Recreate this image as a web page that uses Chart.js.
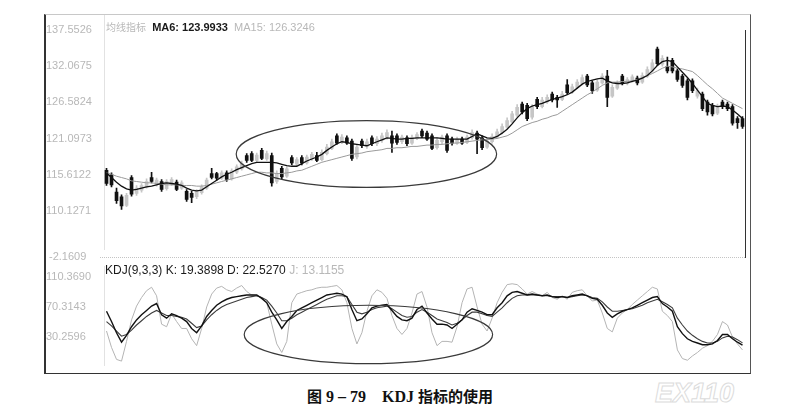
<!DOCTYPE html>
<html>
<head>
<meta charset="utf-8">
<script src="https://cdn.jsdelivr.net/npm/chart.js@4.4.1/dist/chart.umd.min.js"></script>
<style>
  body { margin: 0; background: #fff; width: 802px; height: 416px; position: relative; overflow: hidden;
         font-family: "Liberation Sans", Arial, sans-serif; }
  canvas { position: absolute; left: 0; }
  #priceCanvas { top: 0; }
  #kdjCanvas { top: 258px; }
  #frame { position: absolute; left: 44px; top: 14px; width: 707px; height: 360px; box-sizing: border-box;
           border-top: 1px solid #c8c8c8; border-right: 1px solid #555; border-bottom: 1px solid #333;
           border-left: 2px solid #333; pointer-events: none; }
  #cursor { position: absolute; left: 745px; top: 30px; width: 1px; height: 228px; background: #333; }
  #sep { position: absolute; left: 100px; top: 257px; width: 645px; border-top: 1px dotted #c4c4c4; }
  .txt { position: absolute; white-space: nowrap; font-size: 11px; }
  .g { color: #b8b8b8; }
  .k { color: #1a1a1a; }
  #caption { position: absolute; left: 0; top: 385px; width: 800px; text-align: center; font-size: 16px;
             font-weight: bold; color: #111; font-family: "Liberation Serif", "Noto Sans CJK SC", serif; }
  #caption .cjk { font-family: "Noto Sans CJK SC", sans-serif; font-size: 15px; }
  #mark { position: absolute; left: 655px; top: 378px; font: italic bold 27px "Liberation Sans", Arial, sans-serif;
          color: #fff; -webkit-text-stroke: 1px #dcdcdc; }
</style>
</head>
<body>
<canvas id="priceCanvas" width="802" height="258"></canvas>
<canvas id="kdjCanvas" width="802" height="116"></canvas>
<div id="frame"></div>
<div id="cursor"></div>
<div id="sep"></div>
<div class="txt" style="left:106px;top:19px"><span class="g" style="font-family:'Noto Sans CJK SC';font-size:10px">均线指标</span>&nbsp;&nbsp;<span class="k" style="font-weight:bold">MA6: 123.9933</span>&nbsp;&nbsp;<span class="g">MA15: 126.3246</span></div>
<div class="txt g" style="left:49px;top:250px">-2.1609</div>
<div class="txt" style="left:105px;top:263px;font-size:12px"><span class="k">KDJ(9,3,3) K: 19.3898 D: 22.5270</span> <span class="g">J: 13.1155</span></div>
<div id="caption"><span class="cjk">图</span> 9 – 79&nbsp;&nbsp;&nbsp;&nbsp;KDJ <span class="cjk">指标的使用</span></div>
<div id="mark">EX110</div>
<script>
// price axis labels (upper panel) and KDJ axis labels (lower panel)
const priceTicks = [137.5526, 132.0675, 126.5824, 121.0973, 115.6122, 110.1271];
const kdjTicks = [110.3690, 70.3143, 30.2596];

// daily candles
const opens = [116.3,115.6,113.0,112.3,111.0,115.2,112.8,113.3,113.8,115.2,114.2,114.6,113.5,114.3,114.5,113.6,113.1,112.8,112.3,112.9,
  113.6,115.8,115.8,115.1,115.9,115.0,116.0,116.5,118.5,118.8,117.8,119.3,118.0,118.5,114.6,116.6,115.4,118.2,117.2,118.2,
  117.4,118.0,118.5,117.9,118.8,119.6,121.5,120.5,121.2,120.7,118.3,120.7,119.9,121.2,120.3,120.8,121.3,121.5,121.5,120.6,
  121.2,120.4,121.1,122.2,121.9,121.5,119.7,120.6,121.5,121.0,120.4,121.0,120.5,121.2,121.9,121.2,119.8,120.6,121.3,122.0,
  122.8,123.6,124.6,126.3,126.1,124.3,127.0,125.9,126.6,127.8,127.3,127.0,129.2,128.1,128.8,129.4,130.5,129.5,128.4,129.5,
  130.5,127.5,128.7,130.5,129.4,129.8,130.2,129.6,130.5,131.3,134.6,132.3,132.0,132.9,131.3,130.5,129.8,129.8,127.5,127.8,
  126.6,126.1,124.9,126.6,126.3,125.9,124.1,124.1];
const highs = [116.6,115.9,113.6,112.6,112.8,115.5,114.0,114.3,115.0,116.0,115.1,114.9,114.9,115.2,114.8,114.7,113.4,113.1,113.4,114.1,
  115.1,116.6,116.0,116.2,116.2,116.5,117.1,117.7,118.8,119.1,118.9,119.6,119.2,118.9,116.2,116.9,116.8,118.5,118.2,118.5,
  118.6,119.0,119.0,119.4,120.2,121.0,121.8,121.7,121.5,121.0,120.2,121.0,121.0,121.5,121.4,121.9,122.4,122.2,121.8,121.6,
  121.5,121.6,122.0,122.5,122.2,121.8,121.2,121.6,121.8,121.3,121.3,121.3,121.6,122.4,122.2,121.5,121.1,121.8,122.5,123.3,
  124.2,125.2,126.2,126.6,126.4,126.2,127.3,127.3,127.7,128.1,127.6,128.2,130.0,129.3,130.0,130.7,130.8,129.8,130.0,130.9,
  131.4,129.2,129.8,130.8,130.3,130.7,130.5,131.0,131.9,133.0,134.9,133.6,133.4,133.2,131.6,130.8,130.1,130.1,128.7,128.1,
  126.9,126.4,126.3,126.9,126.6,126.2,124.4,124.4];
const lows = [114.0,113.8,111.3,110.4,110.8,112.4,112.5,113.0,113.6,114.4,113.9,113.1,113.3,114.0,113.2,113.4,111.6,111.4,112.0,112.7,
  113.4,115.0,114.8,114.9,114.6,114.8,115.8,116.3,117.5,117.6,117.6,117.9,117.8,113.9,114.3,115.0,115.2,117.1,117.0,117.1,
  117.2,117.8,117.6,117.7,118.6,119.4,120.2,120.3,120.2,117.8,118.0,119.7,119.6,120.0,120.0,120.5,121.0,119.0,120.2,120.3,
  120.0,120.2,120.9,121.2,120.8,119.4,119.5,120.3,119.0,120.1,120.2,120.2,120.3,121.0,118.8,119.4,119.6,120.4,121.1,121.8,
  122.6,123.4,124.4,124.8,123.8,124.0,125.6,125.7,126.4,126.6,125.8,126.8,127.7,127.9,128.6,129.2,128.9,127.9,128.2,129.3,
  125.9,127.3,128.5,129.2,129.2,129.6,129.2,129.4,130.3,131.1,132.1,132.0,131.0,131.0,129.7,128.8,126.9,128.0,127.2,125.3,
  124.6,124.5,124.7,125.6,125.3,123.1,122.6,122.6];
const closes = [114.3,114.1,111.7,110.9,112.5,112.7,113.6,114.0,114.6,114.6,114.8,113.4,114.6,114.9,113.4,114.4,111.9,112.2,113.1,113.8,
  114.8,115.2,115.1,115.9,114.9,116.2,116.8,117.3,117.8,117.8,118.6,118.1,118.8,114.4,115.8,115.3,116.5,117.4,117.9,117.4,
  118.3,118.7,117.8,119.0,119.8,120.6,120.4,121.3,120.4,118.1,119.8,120.0,120.6,120.3,121.0,121.5,122.0,120.4,120.5,121.3,
  120.3,121.2,121.7,121.5,121.0,119.6,120.8,121.3,119.3,120.4,121.0,120.4,121.3,122.0,121.0,119.7,120.7,121.4,122.1,122.9,
  123.8,124.8,125.8,125.1,124.1,125.8,125.9,126.9,127.3,126.9,126.9,127.8,128.0,128.9,129.6,130.3,129.2,128.3,129.6,130.5,
  127.3,128.8,129.4,129.5,130.0,130.4,129.5,130.6,131.5,132.5,132.4,133.2,131.3,131.3,130.0,129.1,127.3,128.3,128.3,125.6,
  125.1,124.8,125.9,125.9,125.6,123.4,123.5,122.9];

// moving averages as drawn
const ma6 = [115.9,115.2,114.5,113.9,113.5,113.3,113.4,113.6,113.8,113.9,114.1,114.3,114.4,114.3,114.2,114.0,113.6,113.3,113.2,113.3,
  113.8,114.3,114.8,115.3,115.7,116.0,116.4,116.7,117.0,117.3,117.5,117.5,117.5,117.5,117.4,117.2,117.0,116.9,116.9,117.3,
  117.7,118.0,118.3,118.7,119.3,119.8,120.3,120.6,120.5,120.3,120.2,120.1,120.0,120.3,120.6,120.9,121.2,121.1,121.0,121.0,
  121.1,121.1,121.2,121.2,121.2,121.2,121.2,121.1,121.0,121.0,121.0,121.0,121.0,121.4,121.8,121.5,121.2,121.1,121.4,121.9,
  122.5,123.3,124.2,125.0,125.6,126.0,126.2,126.4,126.7,127.0,127.2,127.4,127.7,128.1,128.7,129.3,129.7,129.9,130.1,130.2,
  129.8,129.5,129.4,129.4,129.5,129.7,129.9,130.2,130.6,131.3,132.1,132.7,132.9,132.7,131.9,131.1,130.3,129.4,128.4,127.4,
  126.4,126.1,125.9,126.0,125.9,125.4,124.8,124.1];
const ma15 = [115.9,115.7,115.4,115.2,115.0,114.7,114.6,114.5,114.4,114.4,114.3,114.2,114.1,114.1,114.1,114.0,114.0,114.0,113.9,113.9,
  114.0,114.2,114.4,114.6,114.8,115.0,115.2,115.4,115.6,115.8,116.0,116.0,115.9,115.9,115.8,115.8,115.9,116.0,116.2,116.3,
  116.6,116.9,117.2,117.5,117.7,117.9,118.1,118.3,118.5,118.7,118.8,118.9,119.1,119.2,119.3,119.4,119.6,119.6,119.7,119.7,
  119.8,119.9,119.9,120.0,120.1,120.1,120.2,120.2,120.3,120.4,120.4,120.5,120.6,120.7,120.8,120.9,120.9,121.0,121.1,121.3,
  121.5,121.9,122.4,122.9,123.2,123.5,123.7,124.0,124.2,124.5,124.7,125.2,125.7,126.2,126.7,127.2,127.7,128.1,128.6,129.1,
  129.5,129.6,129.6,129.7,129.7,129.8,130.0,130.3,130.6,130.9,131.3,131.7,132.0,131.9,131.7,131.6,131.4,131.2,130.6,129.9,
  129.2,128.6,127.9,127.2,126.8,126.4,126.0,125.6];

// KDJ(9,3,3)
const kLine = [64.6,50.9,36.0,23.4,32.6,44.0,53.1,60.0,65.7,71.5,74.9,60.0,55.4,61.2,58.9,55.4,50.9,41.7,36.0,45.1,
  57.7,65.7,72.6,77.2,80.6,82.9,84.1,85.2,86.3,86.3,86.3,81.8,76.0,63.4,53.1,41.7,50.9,57.7,65.7,69.2,
  72.6,76.0,79.5,82.9,86.3,87.5,88.6,87.5,84.1,66.9,52.0,54.3,61.2,69.2,71.5,72.6,73.7,65.7,57.7,53.1,
  52.0,55.4,66.9,71.5,62.3,54.3,47.4,47.4,46.3,41.7,47.4,53.1,63.4,68.0,65.7,63.4,60.0,60.0,69.2,76.0,
  85.2,89.8,90.9,88.6,86.3,87.5,86.3,85.2,86.3,84.1,82.9,84.1,82.9,85.2,86.3,87.5,85.2,81.8,80.6,72.6,
  62.3,56.6,61.2,64.6,66.9,69.2,72.6,76.0,79.5,82.9,84.1,74.9,70.3,64.6,44.0,34.8,28.0,24.5,22.3,20.0,
  20.0,21.1,25.7,33.7,33.7,28.0,23.4,19.4];
const dLine = [50.9,45.1,38.3,31.4,33.7,39.4,46.3,52.0,57.7,62.3,65.7,62.3,58.9,58.9,57.7,56.6,54.3,48.6,42.9,45.1,
  53.1,60.0,65.7,70.3,73.7,76.0,78.3,80.6,82.9,84.1,85.2,82.9,79.5,71.5,62.3,52.0,52.0,55.4,60.0,63.4,
  66.9,70.3,73.7,77.2,80.6,82.9,85.2,85.2,84.1,73.7,63.4,61.2,63.4,66.9,69.2,70.3,71.5,68.0,63.4,58.9,
  56.6,57.7,63.4,66.9,63.4,58.9,54.3,52.0,49.7,46.3,48.6,53.1,58.9,63.4,63.4,61.2,58.9,57.7,63.4,69.2,
  76.0,81.8,85.2,86.3,86.3,86.3,86.3,85.2,85.2,84.1,84.1,84.1,82.9,84.1,85.2,86.3,85.2,82.9,81.8,77.2,
  70.3,64.6,64.6,65.7,66.9,68.0,70.3,72.6,76.0,78.3,80.6,77.2,73.7,69.2,55.4,46.3,38.3,32.6,28.0,24.5,
  22.3,22.3,24.5,29.1,31.4,30.3,26.8,22.5];
const jLine = [38.3,16.5,0.5,-1.8,24.5,53.1,71.5,82.9,92.0,96.6,85.2,47.4,44.0,61.2,50.9,41.7,41.7,28.0,18.8,41.7,
  70.3,87.5,95.5,97.8,93.2,90.9,95.5,98.9,90.9,86.3,85.2,82.9,76.0,47.4,21.1,9.7,24.5,76.0,87.5,89.8,
  92.0,93.2,95.5,96.6,96.6,97.8,98.9,93.2,76.0,41.7,21.1,36.0,64.6,85.2,93.2,89.8,81.8,58.9,41.7,33.7,
  41.7,62.3,87.5,90.9,70.3,36.0,18.8,24.5,24.5,23.4,44.0,76.0,94.3,96.6,70.3,47.4,38.3,55.4,76.0,89.8,
  100.1,101.2,100.1,94.3,87.5,90.9,87.5,85.2,89.8,82.9,80.6,85.2,80.6,89.8,92.0,93.2,85.2,78.3,79.5,62.3,
  41.7,37.1,55.4,62.3,66.9,73.7,79.5,85.2,90.9,96.6,94.3,64.6,58.9,50.9,13.1,1.6,-0.6,5.1,9.7,15.4,
  18.8,24.5,33.7,50.9,46.3,30.3,21.1,13.1];

const days = closes.map((c, i) => i + 1);

// ellipses marking the sideways range, in data units
const priceEllipse = { from: 25.9, to: 77.9, top: 123.8, bottom: 113.7 };
const kdjEllipse = { from: 27.5, to: 77.1, top: 72.6, bottom: -5.2 };

const UP = "#c6c6c6";
const DOWN = "#111111";

const ellipsePlugin = {
  id: "ellipse",
  afterDatasetsDraw(chart, args, opts) {
    const { ctx, scales } = chart;
    const x0 = scales.x.getPixelForValue(opts.from);
    const x1 = scales.x.getPixelForValue(opts.to);
    const y0 = scales.y.getPixelForValue(opts.top);
    const y1 = scales.y.getPixelForValue(opts.bottom);
    ctx.save();
    ctx.beginPath();
    ctx.ellipse((x0 + x1) / 2, (y0 + y1) / 2, (x1 - x0) / 2, (y1 - y0) / 2, 0, 0, Math.PI * 2);
    ctx.strokeStyle = "#3a3a3a";
    ctx.lineWidth = 1.2;
    ctx.stroke();
    ctx.restore();
  }
};

function yAxis(min, max, tickValues) {
  return {
    min: min,
    max: max,
    afterFit(scale) { scale.width = 58; },
    afterBuildTicks(scale) { scale.ticks = tickValues.map(v => ({ value: v })); },
    ticks: {
      color: "#b8b8b8",
      font: { family: "Liberation Sans", size: 11 },
      crossAlign: "far",
      padding: 2,
      callback: v => v.toFixed(4)
    },
    grid: { display: false },
    border: { display: true, color: "#e2e2e2", dash: [1, 2] }
  };
}

const isUp = closes.map((c, i) => c >= opens[i]);

//PRICE PANEL
new Chart(document.getElementById("priceCanvas").getContext("2d"), {
  type: "bar",
  data: {
    labels: days,
    datasets: [
      {
        type: "line",
        label: "MA6",
        data: ma6,
        borderColor: "#111",
        borderWidth: 1.3,
        pointRadius: 0,
        order: 0
      },
      {
        type: "line",
        label: "MA15",
        data: ma15,
        borderColor: "#9a9a9a",
        borderWidth: 1,
        pointRadius: 0,
        order: 0
      },
      {
        label: "body",
        data: opens.map((o, i) => [o, closes[i]]),
        backgroundColor: isUp.map(u => (u ? UP : DOWN)),
        barThickness: 3,
        grouped: false,
        order: 1
      },
      {
        label: "wick",
        data: lows.map((l, i) => [l, highs[i]]),
        backgroundColor: isUp.map(u => (u ? UP : DOWN)),
        barThickness: 1,
        grouped: false,
        order: 2
      }
    ]
  },
  options: {
    responsive: false,
    animation: false,
    layout: { padding: { left: 46, right: 57, top: 14, bottom: 1 } },
    plugins: { legend: { display: false }, tooltip: { enabled: false }, ellipse: priceEllipse },
    scales: {
      x: { display: false, offset: true },
      y: yAxis(104.35, 139.89, priceTicks)
    }
  },
  plugins: [ellipsePlugin]
});

//KDJ PANEL
new Chart(document.getElementById("kdjCanvas").getContext("2d"), {
  type: "line",
  data: {
    labels: days,
    datasets: [
      { label: "K", data: kLine, borderColor: "#111", borderWidth: 1.4, pointRadius: 0 },
      { label: "D", data: dLine, borderColor: "#3c3c3c", borderWidth: 1.1, pointRadius: 0 },
      { label: "J", data: jLine, borderColor: "#b4b4b4", borderWidth: 1, pointRadius: 0 }
    ]
  },
  options: {
    responsive: false,
    animation: false,
    layout: { padding: { left: 46, right: 57, top: 0, bottom: 1 } },
    plugins: { legend: { display: false }, tooltip: { enabled: false }, ellipse: kdjEllipse },
    scales: {
      x: { display: false, offset: true },
      y: yAxis(-7.5, 124.1, kdjTicks)
    }
  },
  plugins: [ellipsePlugin]
});
</script>
</body>
</html>
